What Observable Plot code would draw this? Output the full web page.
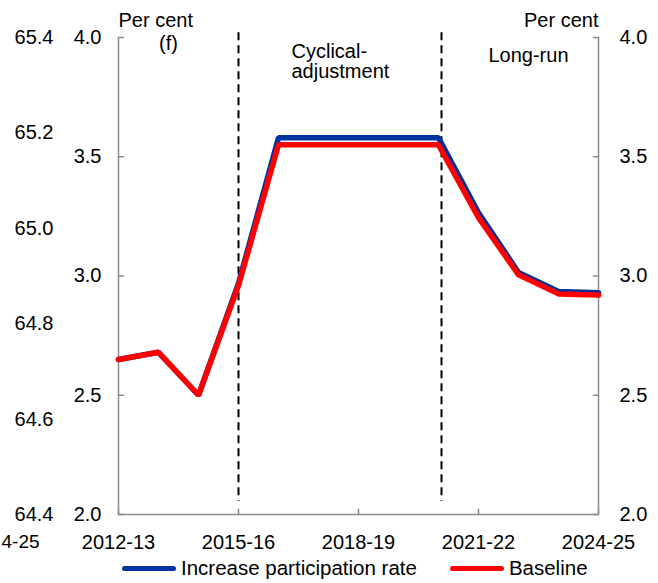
<!DOCTYPE html>
<html>
<head>
<meta charset="utf-8">
<script src="https://cdn.jsdelivr.net/npm/d3@7"></script>
<script src="https://cdn.jsdelivr.net/npm/@observablehq/plot@0.6"></script>
<style>
  html, body { margin: 0; padding: 0; background: white; }
  body { width: 658px; height: 583px; overflow: hidden; font-family: "Liberation Sans", Arial, sans-serif; }
  #legend { position: relative; height: 30px; display: flex; align-items: center; padding-left: 122px; font-size: 20.5px; color: black; }
  .item { display: flex; align-items: center; }
  .sw { width: 54px; height: 5px; border-radius: 3px; margin-right: 5px; }
</style>
</head>
<body>
<div id="chart"></div>
<div id="legend"></div>
<script>
const years = ["2012-13","2013-14","2014-15","2015-16","2016-17","2017-18","2018-19","2019-20","2020-21","2021-22","2022-23","2023-24","2024-25"];
const increaseParticipation = [2.65, 2.68, 2.50, 2.97, 3.58, 3.58, 3.58, 3.58, 3.58, 3.265, 3.015, 2.935, 2.93];
const baseline = [2.65, 2.68, 2.50, 2.96, 3.55, 3.55, 3.55, 3.55, 3.55, 3.245, 3.005, 2.925, 2.92];
const seriesNames = ["Increase participation rate", "Baseline"];
const seriesColors = ["#0033a0", "#ff0000"];
const xTickLabels = ["2012-13", "2015-16", "2018-19", "2021-22", "2024-25"];
const yTicks = [2.0, 2.5, 3.0, 3.5, 4.0];
const phaseBreaks = ["2015-16", "2020-21"];
const phaseLabels = [
  {x: "2012-13", text: "(f)"},
  {x: "2015-16", text: "Cyclical-\nadjustment"},
  {x: "2021-22", text: "Long-run"}
];
const leftPanelTicks = [64.4, 64.6, 64.8, 65.0, 65.2, 65.4];
const leftPanelXLabel = ["4-25"];

const rows = [];
years.forEach((y, i) => {
  rows.push({year: y, value: increaseParticipation[i], series: seriesNames[0]});
  rows.push({year: y, value: baseline[i], series: seriesNames[1]});
});

const frameColor = "#8c8c8c";
const tickShape = {draw(context, l) { context.moveTo(0, 0); context.lineTo(0, -l); }};
const chart = Plot.plot({
  width: 658,
  height: 553,
  marginLeft: 118,
  marginRight: 60,
  marginTop: 37,
  marginBottom: 39,
  style: {fontSize: "20px", fontFamily: "'Liberation Sans', Arial, sans-serif", color: "black", background: "white", overflow: "visible"},
  x: {type: "point", domain: years, padding: 0},
  y: {domain: [2, 4]},
  marks: [
    Plot.ruleX([years[0], years[years.length - 1]], {stroke: frameColor, strokeWidth: 1.5}),
    Plot.ruleY([2], {stroke: frameColor, strokeWidth: 1.5}),
    Plot.axisX({ticks: xTickLabels, tickSize: 0, tickPadding: 20, label: null}),
    Plot.axisY({anchor: "left", ticks: yTicks, tickSize: 0, tickPadding: 17, tickFormat: d => d.toFixed(1), label: null}),
    Plot.axisY({anchor: "right", ticks: yTicks, tickSize: 0, tickPadding: 21, tickFormat: d => d.toFixed(1), label: null}),
    Plot.vector(yTicks, {x: () => years[0], y: d => d, length: 5, rotate: 90, anchor: "start", shape: tickShape, stroke: frameColor, strokeWidth: 1.5}),
    Plot.vector(yTicks, {x: () => years[years.length - 1], y: d => d, length: 5, rotate: -90, anchor: "start", shape: tickShape, stroke: frameColor, strokeWidth: 1.5}),
    Plot.vector(xTickLabels, {x: d => d, y: () => 2, length: 5, rotate: 0, anchor: "start", shape: tickShape, stroke: frameColor, strokeWidth: 1.5}),
    Plot.ruleX([phaseBreaks[0]], {y1: 4.02, y2: 2.055, stroke: "black", strokeWidth: 2, strokeDasharray: "8,5"}),
    Plot.ruleX([phaseBreaks[1]], {y1: 4.02, y2: 2.055, stroke: "black", strokeWidth: 2, strokeDasharray: "8,5", dx: 3}),
    Plot.line(rows.filter(d => d.series === seriesNames[0]), {x: "year", y: "value", stroke: seriesColors[0], strokeWidth: 5.5, strokeLinejoin: "miter"}),
    Plot.line(rows.filter(d => d.series === seriesNames[1]), {x: "year", y: "value", stroke: seriesColors[1], strokeWidth: 5.5, strokeLinejoin: "miter"}),
    Plot.text(["Per cent"], {x: () => years[0], y: () => 4, dy: -17, textAnchor: "start"}),
    Plot.text(["Per cent"], {x: () => years[years.length - 1], y: () => 4, dy: -17, textAnchor: "end"}),
    Plot.text([phaseLabels[0]], {x: "x", y: () => 4, text: "text", dx: 50, dy: 6}),
    Plot.text([phaseLabels[1]], {x: "x", y: () => 4, text: "text", dx: 53, dy: 24, textAnchor: "start", lineHeight: 1.0}),
    Plot.text([phaseLabels[2]], {x: "x", y: () => 4, text: "text", dx: 50, dy: 18}),
    Plot.text(leftPanelTicks, {x: () => years[0], y: v => 2 + (v - 64.4) * 2, text: v => v.toFixed(1), textAnchor: "end", dx: -65}),
    Plot.text(leftPanelXLabel, {x: () => years[0], y: () => 2, text: d => d, textAnchor: "start", dx: -117, dy: 27, fontSize: "19px"})
  ]
});
document.getElementById("chart").appendChild(chart);

const legend = document.getElementById("legend");
seriesNames.forEach((name, i) => {
  const item = document.createElement("div");
  item.className = "item";
  if (i > 0) item.style.marginLeft = "33px";
  const sw = document.createElement("div");
  sw.className = "sw";
  sw.style.background = seriesColors[i];
  const t = document.createElement("span");
  t.textContent = name;
  item.appendChild(sw);
  item.appendChild(t);
  legend.appendChild(item);
});
</script>
</body>
</html>
